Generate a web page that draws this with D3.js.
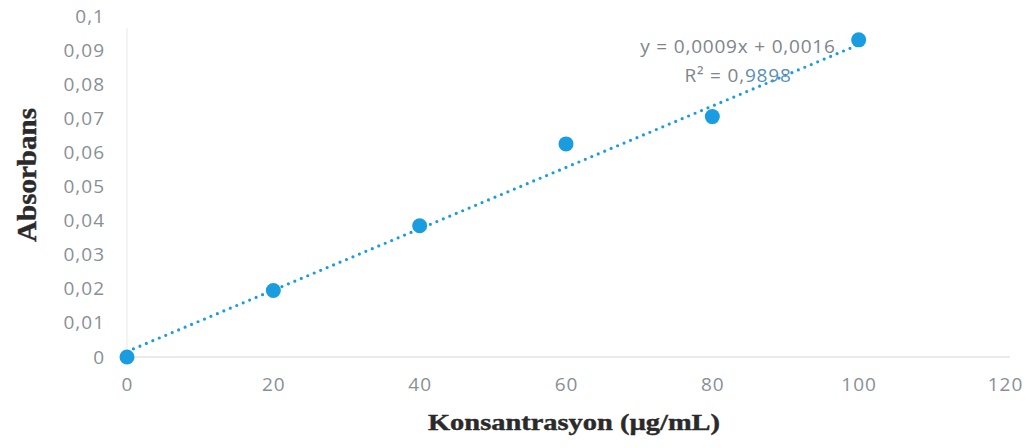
<!DOCTYPE html>
<html>
<head>
<meta charset="utf-8">
<script src="https://cdn.jsdelivr.net/npm/d3@7"></script>
<style>
  html, body { margin: 0; padding: 0; background: #fff; }
  svg { display: block; }
</style>
</head>
<body>
<svg id="chart" width="1036" height="448"></svg>
<script>
const concentrations = [0, 20, 40, 60, 80, 100];
const absorbance = [0, 0.0195, 0.0385, 0.0625, 0.0705, 0.093];
const xTicks = [0, 20, 40, 60, 80, 100, 120];
const yTicks = [0, 0.01, 0.02, 0.03, 0.04, 0.05, 0.06, 0.07, 0.08, 0.09, 0.1];
const trendSlope = 0.0009;
const trendIntercept = 0.0016;
const equationLabel = "y = 0,0009x + 0,0016";
const r2Prefix = "R² = 0,";
const r2Digits = "9898";
const xTitle = "Konsantrasyon (µg/mL)";
const yTitle = "Absorbans";

const svg = d3.select("#chart");
const x = d3.scaleLinear().domain([0, 120]).range([127, 1005]);
const y = d3.scaleLinear().domain([0, 0.1]).range([357, 16]);

const fmtY = d => d === 0 ? "0" : String(+d.toFixed(2)).replace(".", ",");

// axis lines
svg.append("line").attr("x1", x(0)).attr("x2", x(120) + 5).attr("y1", y(0)).attr("y2", y(0))
  .attr("stroke", "#e4e4e4").attr("stroke-width", 1.5);
svg.append("line").attr("x1", x(0)).attr("x2", x(0)).attr("y1", y(0)).attr("y2", y(0.1) + 12)
  .attr("stroke", "#f0f0f0").attr("stroke-width", 1.5);

// y tick labels
const yAxis = d3.axisLeft(y).tickValues(yTicks).tickFormat(fmtY).tickSize(0).tickPadding(0);
const gy = svg.append("g").attr("transform", "translate(105,0)").call(yAxis);
gy.select(".domain").remove();
gy.selectAll("text").attr("font-family", "Open Sans, sans-serif").attr("font-size", 19)
  .attr("letter-spacing", 1).attr("fill", "#8a8f95");

// x tick labels
const xAxis = d3.axisBottom(x).tickValues(xTicks).tickFormat(d => String(d)).tickSize(0).tickPadding(0);
const gx = svg.append("g").attr("transform", "translate(0,377)").call(xAxis);
gx.select(".domain").remove();
gx.selectAll("text").attr("font-family", "Open Sans, sans-serif").attr("font-size", 19)
  .attr("letter-spacing", 1).attr("fill", "#8a8f95");

// trendline
const tl = d3.line().x(d => x(d)).y(d => y(trendSlope * d + trendIntercept));
svg.append("path").attr("d", tl([0, 100])).attr("fill", "none")
  .attr("stroke", "#1a9de0").attr("stroke-width", 3.2)
  .attr("stroke-dasharray", "0 7").attr("stroke-linecap", "round");

// points
svg.selectAll("circle.pt").data(concentrations.map((c, i) => [c, absorbance[i]]))
  .join("circle").attr("class", "pt")
  .attr("cx", d => x(d[0])).attr("cy", d => y(d[1])).attr("r", 7.5)
  .attr("fill", "#1a9de0");

// equation
svg.append("text").attr("x", 738).attr("y", 53).attr("text-anchor", "middle")
  .attr("font-family", "Open Sans, sans-serif").attr("font-size", 19).attr("letter-spacing", 0.8)
  .attr("fill", "#7f858b").text(equationLabel);
const r2 = svg.append("text").attr("x", 738).attr("y", 82).attr("text-anchor", "middle")
  .attr("font-family", "Open Sans, sans-serif").attr("font-size", 19).attr("letter-spacing", 0.8)
  .attr("fill", "#7f858b");
r2.append("tspan").text(r2Prefix);
r2.append("tspan").attr("fill", "#5b8fb3").text(r2Digits);

// axis titles
svg.append("text").attr("x", 428).attr("y", 430)
  .attr("textLength", 292).attr("lengthAdjust", "spacingAndGlyphs")
  .attr("font-family", "Liberation Serif, serif").attr("font-weight", "bold").attr("font-size", 23)
  .attr("fill", "#2a2a2a").attr("stroke", "#2a2a2a").attr("stroke-width", 0.4).text(xTitle);
svg.append("text").attr("transform", "translate(36,242) rotate(-90)")
  .attr("textLength", 134).attr("lengthAdjust", "spacingAndGlyphs")
  .attr("font-family", "Liberation Serif, serif").attr("font-weight", "bold").attr("font-size", 27)
  .attr("fill", "#2a2a2a").attr("stroke", "#2a2a2a").attr("stroke-width", 0.4).text(yTitle);
</script>
</body>
</html>
